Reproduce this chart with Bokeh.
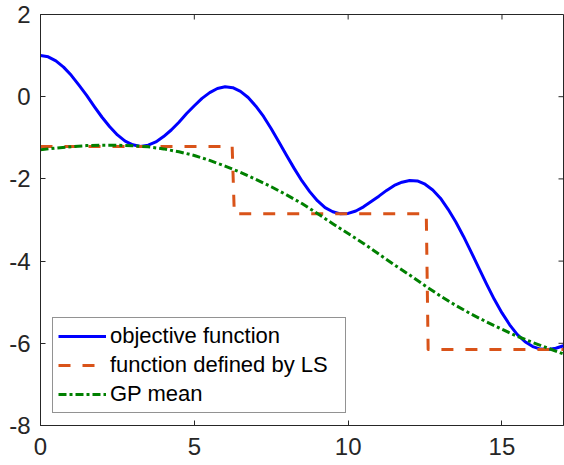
import math
from bokeh.plotting import figure
from bokeh.models import Range1d, FixedTicker, LinearAxis, Legend, LegendItem
from bokeh.embed import file_html
from bokeh.resources import INLINE

# ---- data ----
x_obj = [0.0, 0.25, 0.5, 0.75, 1.0, 1.25, 1.5, 1.75, 2.0, 2.25, 2.5, 2.75,
         3.0, 3.25, 3.5, 3.75, 4.0, 4.25, 4.5, 4.75, 5.0, 5.25, 5.5, 5.75,
         6.0, 6.25, 6.5, 6.75, 7.0, 7.25, 7.5, 7.75, 8.0, 8.25, 8.5, 8.75,
         9.0, 9.25, 9.5, 9.75, 10.0, 10.25, 10.5, 10.75, 11.0, 11.25, 11.5, 11.75,
         12.0, 12.25, 12.5, 12.75, 13.0, 13.25, 13.5, 13.75, 14.0, 14.25, 14.5, 14.75,
         15.0, 15.25, 15.5, 15.75, 16.0, 16.25, 16.5, 16.75, 17.0]
y_obj = [1.00, 0.97, 0.87, 0.72, 0.52, 0.28, 0.03, -0.24, -0.50, -0.73, -0.93, -1.08,
         -1.17, -1.21, -1.18, -1.10, -0.97, -0.81, -0.62, -0.41, -0.22, -0.04, 0.10, 0.20,
         0.24, 0.22, 0.13, -0.02, -0.23, -0.48, -0.78, -1.10, -1.43, -1.75, -2.05, -2.31,
         -2.53, -2.70, -2.80, -2.85, -2.84, -2.78, -2.68, -2.55, -2.42, -2.28, -2.16, -2.08,
         -2.04, -2.05, -2.13, -2.27, -2.47, -2.74, -3.05, -3.40, -3.78, -4.17, -4.56, -4.93,
         -5.26, -5.55, -5.79, -5.96, -6.08, -6.14, -6.15, -6.12, -6.06]

x_ls = [0.0, 6.23, 6.30, 12.54, 12.60, 17.0]
y_ls = [-1.21, -1.21, -2.85, -2.85, -6.15, -6.15]

x_gp = [0.0, 0.5, 1.0, 1.5, 2.0, 2.5, 3.0, 3.5, 4.0, 4.5, 5.0, 5.5, 6.0, 6.5,
        7.0, 7.5, 8.0, 8.5, 9.0, 9.5, 10.0, 10.5, 11.0, 11.5, 12.0, 12.5, 13.0,
        13.5, 14.0, 14.5, 15.0, 15.5, 16.0, 16.5, 17.0]
y_gp = [-1.29, -1.25, -1.215, -1.19, -1.18, -1.18, -1.195, -1.22, -1.27, -1.34,
        -1.43, -1.55, -1.69, -1.84, -2.01, -2.19, -2.39, -2.60, -2.84, -3.09,
        -3.33, -3.57, -3.83, -4.09, -4.34, -4.60, -4.85, -5.08, -5.29, -5.48,
        -5.66, -5.83, -5.98, -6.12, -6.26]

x_lim = [0, 17]
y_lim = [-8, 2]
x_ticks = [0, 5, 10, 15]
y_ticks = [-8, -6, -4, -2, 0, 2]
labels = ["objective function", "function defined by LS", "GP mean"]

AX = "#262626"
FONT = "Liberation Sans"

p = figure(width=564, height=465, output_backend="svg", toolbar_location=None,
           x_range=Range1d(*x_lim), y_range=Range1d(*y_lim),
           min_border_left=40, min_border_right=1, min_border_top=14,
           min_border_bottom=40, x_axis_location=None, y_axis_location=None)
p.xgrid.visible = False
p.ygrid.visible = False
p.outline_line_color = AX
p.outline_line_width = 1
p.background_fill_color = "white"
p.border_fill_color = "white"


def style_axis(ax, ticks):
    ax.ticker = FixedTicker(ticks=ticks)
    ax.major_label_overrides = {t: str(t) for t in ticks}
    ax.axis_line_color = AX
    ax.axis_line_width = 1
    ax.major_tick_line_color = AX
    ax.major_tick_in = 5
    ax.major_tick_out = 0
    ax.minor_tick_line_color = None
    ax.major_label_text_font = FONT
    ax.major_label_text_font_size = "24px"
    ax.major_label_text_color = AX


bottom = LinearAxis()
style_axis(bottom, x_ticks)
bottom.major_label_standoff = 12
p.add_layout(bottom, "below")

left = LinearAxis()
style_axis(left, y_ticks)
left.major_label_standoff = 10
p.add_layout(left, "left")

# inward ticks on the top and right edges of the box (MATLAB style)
p.ray(x=x_ticks, y=[y_lim[1]] * len(x_ticks), length=5, length_units="screen",
      angle=-math.pi / 2, line_color=AX, line_width=1)
p.ray(x=[x_lim[1]] * len(y_ticks), y=y_ticks, length=5, length_units="screen",
      angle=math.pi, line_color=AX, line_width=1)

r1 = p.line(x_obj, y_obj, line_color="#0000FF", line_width=3, line_join="round")
r2 = p.line(x_ls, y_ls, line_color="#D95319", line_width=3, line_dash="12 12",
            line_join="round")
r3 = p.line(x_gp, y_gp, line_color="#008000", line_width=3, line_dash="8 3 3 3",
            line_join="round")

legend = Legend(items=[LegendItem(label=labels[0], renderers=[r1]),
                       LegendItem(label=labels[1], renderers=[r2]),
                       LegendItem(label=labels[2], renderers=[r3])],
                location=(12, 12), margin=0, padding=5, spacing=3,
                glyph_width=48, glyph_height=26, label_height=26,
                label_width=230, label_standoff=4,
                label_text_font=FONT, label_text_font_size="22px",
                label_text_color="#000000",
                border_line_color=AX, border_line_width=1,
                background_fill_color="white", background_fill_alpha=1)
p.add_layout(legend)

open("out.html", "w").write(file_html(p, INLINE))
